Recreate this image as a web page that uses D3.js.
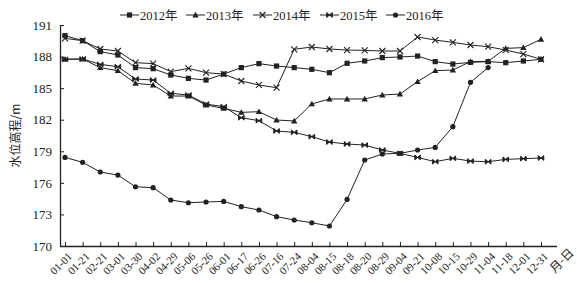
<!DOCTYPE html>
<html>
<head>
<meta charset="utf-8">
<script src="https://cdn.jsdelivr.net/npm/d3@7"></script>
<style>
  body { margin: 0; background: #fff; }
  text { font-family: "Liberation Serif", "Noto Sans CJK SC", serif; fill: #222; }
</style>
</head>
<body>
<div id="chart"></div>
<script>
(function(){

const width = 577;
const height = 283;
const margin = {top: 25, right: 20, bottom: 37, left: 60};

// tick labels along the x axis (month-day)
const dates = ["01-01","01-21","02-21","03-01","03-30","04-02","04-29","05-06","05-26","06-01",
  "06-17","06-26","07-16","07-24","08-04","08-15","08-18","08-20","08-29","09-04",
  "09-21","10-08","10-15","10-29","11-04","11-18","12-01","12-31"];

const years = ["2012年","2013年","2014年","2015年","2016年"];
const yTicks = [170,173,176,179,182,185,188,191];

// water level (m)
const y2012 = [189.99,189.51,188.47,188.15,186.95,186.85,186.25,185.93,185.77,186.34,
  186.95,187.33,187.10,186.95,186.79,186.47,187.36,187.58,187.90,187.96,
  188.05,187.52,187.29,187.45,187.52,187.42,187.58,187.74];
const y2013 = [187.74,187.77,186.95,186.66,185.46,185.30,184.25,184.25,183.40,183.08,
  182.70,182.76,181.97,181.88,183.50,183.97,183.97,183.97,184.35,184.44,
  185.62,186.66,186.72,187.52,187.55,188.78,188.85,189.64];
const y2014 = [189.73,189.51,188.72,188.53,187.42,187.33,186.57,186.88,186.47,186.34,
  185.68,185.30,185.04,188.69,188.91,188.72,188.62,188.59,188.53,188.53,
  189.86,189.57,189.35,189.10,188.94,188.62,188.24,187.74];
const y2015 = [187.74,187.77,187.26,187.04,185.87,185.77,184.51,184.35,183.49,183.24,
  182.19,181.91,180.93,180.80,180.39,179.88,179.69,179.59,179.12,178.80,
  178.42,178.01,178.33,178.07,178.01,178.23,178.30,178.36];
const y2016 = [178.42,177.95,177.03,176.74,175.63,175.54,174.37,174.11,174.18,174.24,
  173.74,173.42,172.79,172.47,172.21,171.90,174.43,178.17,178.74,178.80,
  179.12,179.37,181.34,185.55,186.95];

const seriesValues = [y2012, y2013, y2014, y2015, y2016];

const svg = d3.select("#chart")
  .append("svg")
  .attr("width", width)
  .attr("height", height);

const x = d3.scalePoint()
  .domain(dates)
  .range([65, 541]);

const y = d3.scaleLinear()
  .domain([170, 191])
  .range([height - margin.bottom, margin.top]);

const yBase = y(170);

// marker shapes per year
function marker(g, k) {
  const s = 2.6;
  if (k === 0) {
    g.append("rect").attr("x", -s).attr("y", -s).attr("width", 2*s).attr("height", 2*s).attr("fill", "#222");
  } else if (k === 1) {
    g.append("path").attr("d", `M0,${-3.2}L3.2,2.4L-3.2,2.4Z`).attr("fill", "#222");
  } else if (k === 2) {
    g.append("path").attr("d", `M-3,-3L3,3M-3,3L3,-3`)
      .attr("stroke", "#222").attr("stroke-width", 1.1).attr("fill", "none");
  } else if (k === 3) {
    g.append("path").attr("d", `M-2.8,-2.4L2.8,2.4L2.8,-2.4L-2.8,2.4Z`)
      .attr("stroke", "#222").attr("stroke-width", 1).attr("fill", "#222");
  } else {
    g.append("circle").attr("r", 2.6).attr("fill", "#222");
  }
}

// Y axis (ticks point inward)
const yAxis = svg.append("g")
  .attr("transform", `translate(${margin.left},0)`)
  .call(d3.axisLeft(y).tickValues(yTicks).tickSizeInner(-4).tickSizeOuter(0).tickPadding(8));
yAxis.select(".domain").attr("stroke", "#222").attr("stroke-width", 1.3)
  .attr("d", `M0.5,${y(191)}V${yBase}`);
yAxis.selectAll(".tick line").attr("stroke", "#222");
yAxis.selectAll(".tick text").style("font-size", "13px").style("font-family", "Liberation Serif");

// X axis
const xAxis = svg.append("g")
  .attr("transform", `translate(0,${yBase})`)
  .call(d3.axisBottom(x).tickSizeInner(-4).tickSizeOuter(0).tickPadding(4));
xAxis.select(".domain").attr("stroke", "#222").attr("stroke-width", 1.3)
  .attr("d", `M${margin.left},0.5H557`);
xAxis.selectAll(".tick line").attr("stroke", "#222");
xAxis.selectAll(".tick text")
  .style("font-size", "11px")
  .style("font-family", "Liberation Serif")
  .attr("text-anchor", "end")
  .attr("dy", "0.3em")
  .attr("transform", "translate(2,6) rotate(-45)");

// x axis title
svg.append("text")
  .attr("transform", `translate(572,${yBase + 5}) rotate(-45)`)
  .attr("text-anchor", "end")
  .attr("dy", "0.3em")
  .style("font-size", "12px")
  .style("font-family", "Noto Sans CJK SC")
  .text("月-日");

// y axis title
svg.append("text")
  .attr("transform", `translate(20,${(y(191) + yBase) / 2}) rotate(-90)`)
  .attr("text-anchor", "middle")
  .style("font-size", "12px")
  .style("font-family", "Noto Sans CJK SC")
  .attr("fill", "#333")
  .text("水位高程/m");

// lines
const line = d3.line()
  .x((d, i) => x(dates[i]))
  .y(d => y(d));

seriesValues.forEach((vals, k) => {
  svg.append("path")
    .datum(vals)
    .attr("fill", "none")
    .attr("stroke", "#222")
    .attr("stroke-width", 1)
    .attr("d", line);

  svg.selectAll(".m" + k)
    .data(vals)
    .enter()
    .append("g")
    .attr("class", "m" + k)
    .attr("transform", (d, i) => `translate(${x(dates[i])},${y(d)})`)
    .each(function(){ marker(d3.select(this), k); });
});

// legend
const legendX = [120, 186, 253, 320, 386];
const legend = svg.selectAll(".legend")
  .data(years)
  .enter()
  .append("g")
  .attr("class", "legend")
  .attr("transform", (d, i) => `translate(${legendX[i]},15)`);

legend.append("line")
  .attr("x1", 0).attr("x2", 19)
  .attr("stroke", "#222").attr("stroke-width", 1);

legend.each(function(d, i){
  const g = d3.select(this).append("g").attr("transform", "translate(9.5,0)");
  marker(g, i);
});

legend.append("text")
  .attr("x", 20)
  .attr("y", 4.5)
  .style("font-size", "12.5px")
  .text(d => d);

})();
</script>
</body>
</html>
